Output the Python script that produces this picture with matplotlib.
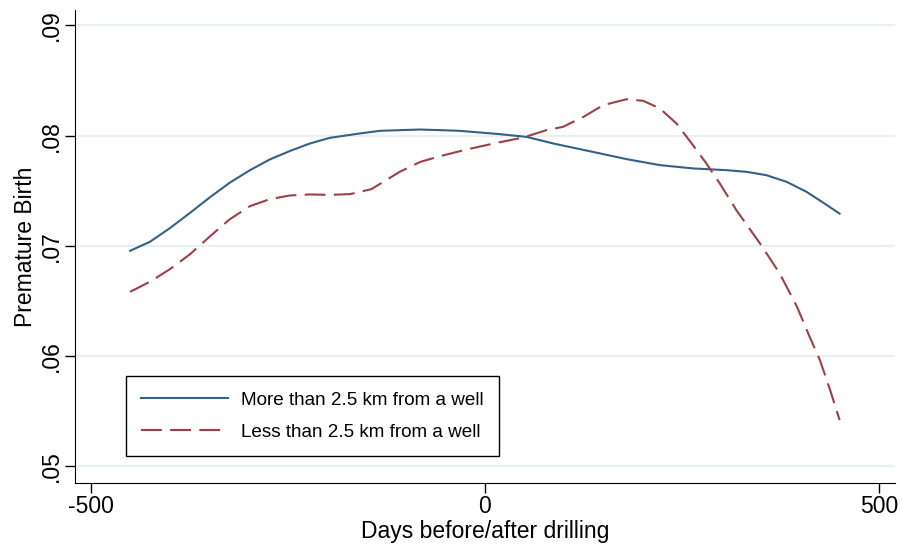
import matplotlib.pyplot as plt

plt.rcParams['font.family'] = ['Liberation Sans', 'DejaVu Sans']

# smoothed premature birth rate
far_days = [-450, -425, -400, -374, -349, -324, -298, -273, -247, -222, -197, -159,
            -133, -82, -32, 19, 53, 87, 137, 180, 222, 264, 307, 332, 357, 383,
            408, 434, 450]
far_rate = [0.06956, 0.07037, 0.07159, 0.07300, 0.07440, 0.07572, 0.07687, 0.07784,
            0.07862, 0.07929, 0.07980, 0.08020, 0.08044, 0.08056, 0.08044, 0.08014,
            0.07989, 0.07929, 0.07853, 0.07787, 0.07733, 0.07703, 0.07687, 0.07672,
            0.07642, 0.07581, 0.07491, 0.07370, 0.07293]

near_days = [-450, -425, -400, -374, -349, -324, -298, -273, -247, -222, -197, -171,
             -144, -108, -82, -57, -23, 15, 49, 78, 99, 125, 150, 180, 201, 222,
             243, 264, 281, 298, 319, 349, 374, 396, 412, 425, 438, 450]
near_rate = [0.06584, 0.06675, 0.06787, 0.06925, 0.07085, 0.07240, 0.07361, 0.07424,
             0.07458, 0.07467, 0.07463, 0.07470, 0.07515, 0.07672, 0.07762, 0.07814,
             0.07875, 0.07935, 0.07984, 0.08050, 0.08080, 0.08170, 0.08277, 0.08331,
             0.08316, 0.08247, 0.08111, 0.07914, 0.07748, 0.07567, 0.07325, 0.07023,
             0.06751, 0.06448, 0.06176, 0.05965, 0.05693, 0.05421]

labels = ['More than 2.5 km from a well', 'Less than 2.5 km from a well']
yticks = [0.05, 0.06, 0.07, 0.08, 0.09]
xticks = [-500, 0, 500]

fig = plt.figure(figsize=(9.02, 5.46), dpi=100)
ax = fig.add_axes([0.0831, 0.1154, 0.9089, 0.8663])

for y in yticks:
    ax.axhline(y, color='#e9f0f3', lw=1.6, zorder=0)

ax.plot(far_days, far_rate, color='#33618a', lw=1.5, label=labels[0])
ax.plot(near_days, near_rate, color='#9e3f47', lw=1.5, dashes=(10, 4), label=labels[1])

ax.set_xlim(-520, 520)
ax.set_ylim(0.0485, 0.0914)
ax.set_xticks(xticks)
ax.set_xticklabels(['-500', '0', '500'])
ax.set_yticks(yticks)
ax.set_yticklabels(['.05', '.06', '.07', '.08', '.09'], rotation=90, va='center')
ax.tick_params(labelsize=16.5, length=7, width=1, direction='out', pad=2)
ax.spines['top'].set_visible(False)
ax.spines['right'].set_visible(False)
ax.set_xlabel('Days before/after drilling', fontsize=16.5, labelpad=1)
ax.set_ylabel('Premature Birth', fontsize=16.5, labelpad=2)

leg = ax.legend(loc='lower left', bbox_to_anchor=(0.0622, 0.057), fontsize=13.6,
                handlelength=4.6, handletextpad=0.7, borderpad=0.8, labelspacing=0.8,
                borderaxespad=0, fancybox=False, edgecolor='black', framealpha=1)
leg.get_frame().set_linewidth(1)

fig.savefig('out.png', dpi=100)
